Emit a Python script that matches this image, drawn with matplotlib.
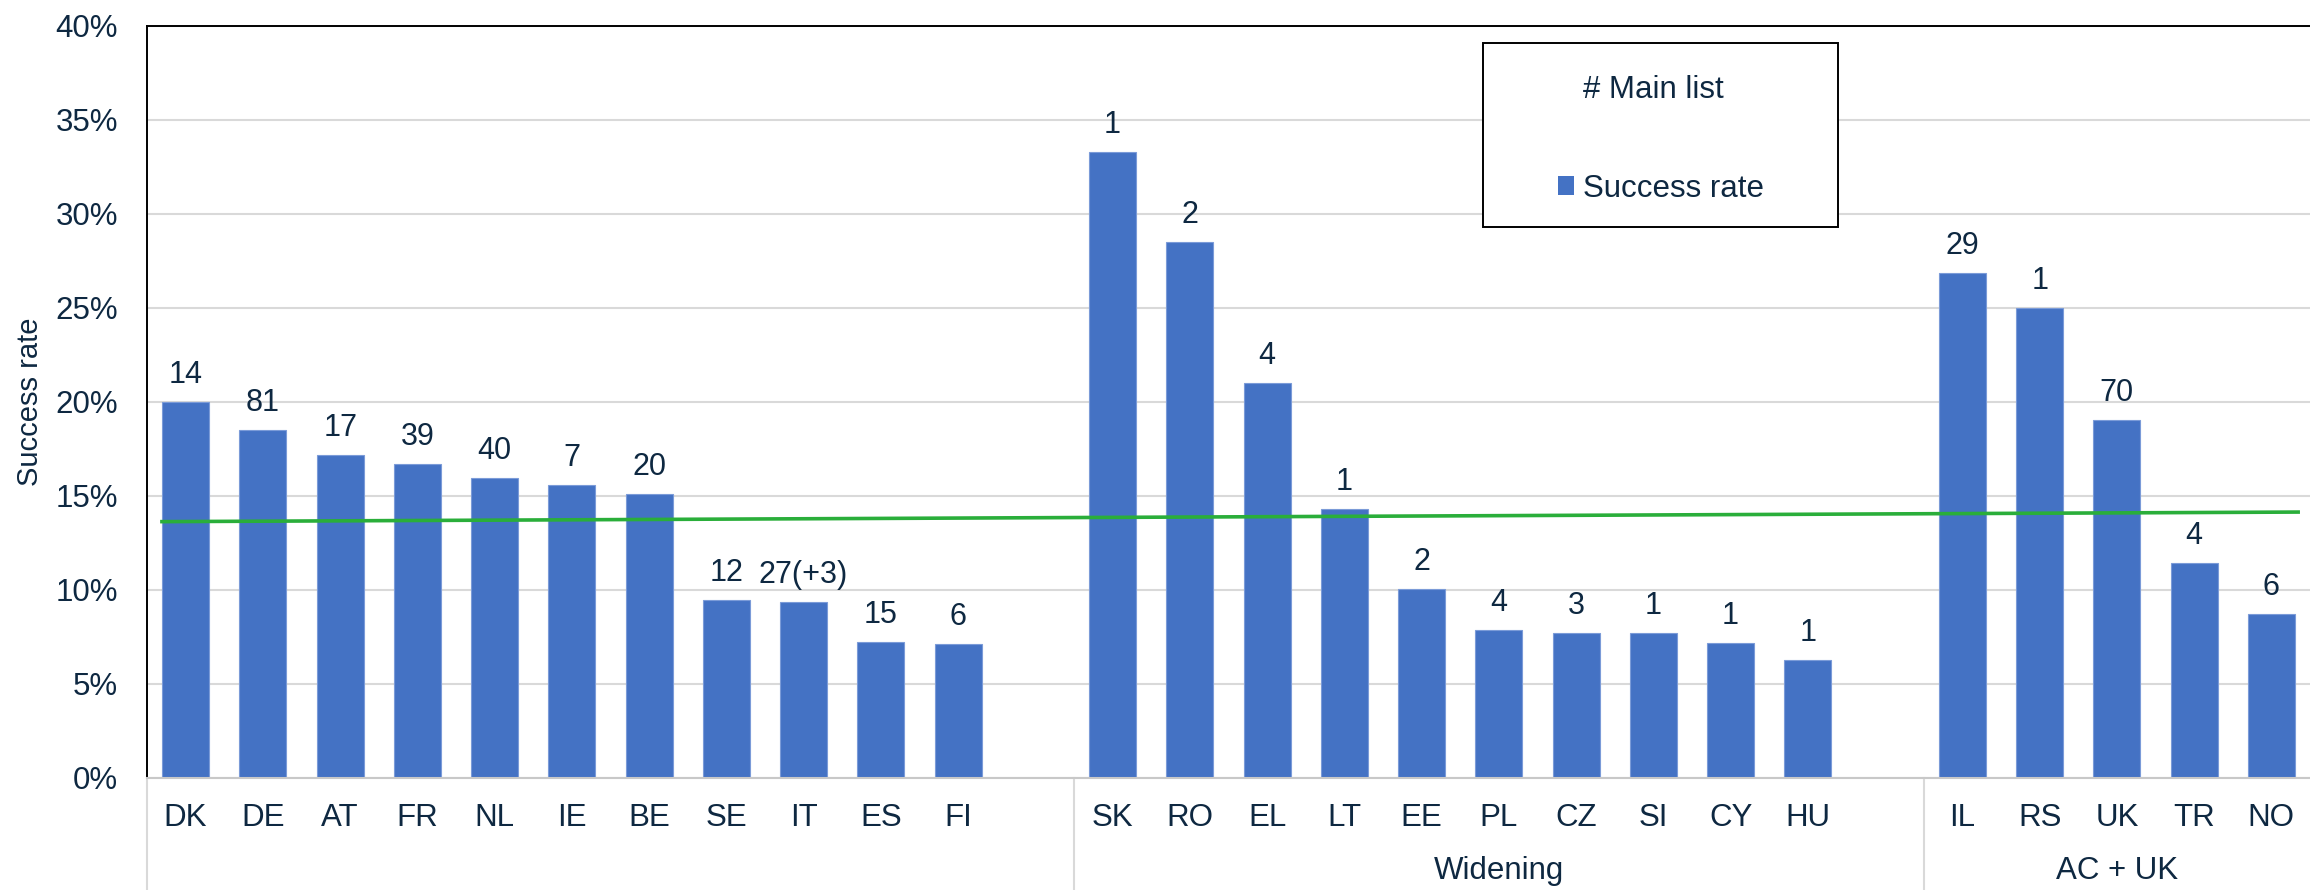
import matplotlib
matplotlib.use("Agg")
import matplotlib.pyplot as plt
from matplotlib.patches import Patch, Rectangle
from matplotlib.ticker import FuncFormatter
import matplotlib.transforms as mtransforms

plt.rcParams['font.family'] = ['Liberation Sans', 'DejaVu Sans']

# ---- data ----
countries = ["DK", "DE", "AT", "FR", "NL", "IE", "BE", "SE", "IT", "ES", "FI",
             "SK", "RO", "EL", "LT", "EE", "PL", "CZ", "SI", "CY", "HU",
             "IL", "RS", "UK", "TR", "NO"]
group_sizes = [11, 10, 5]
group_labels = ["", "Widening", "AC + UK"]
success_rate = [20.0, 18.5, 17.15, 16.7, 15.95, 15.55, 15.1, 9.45, 9.35, 7.2, 7.1,
                33.3, 28.5, 21.0, 14.3, 10.05, 7.85, 7.7, 7.7, 7.15, 6.25,
                26.85, 25.0, 19.0, 11.4, 8.7]
main_list = ["14", "81", "17", "39", "40", "7", "20", "12", "27(+3)", "15", "6",
             "1", "2", "4", "1", "2", "4", "3", "1", "1", "1",
             "29", "1", "70", "4", "6"]
average_line = [13.62, 14.13]   # start / end of the average line

TEXT = '#0e2841'
BLUE = '#4472c4'
GREEN = '#2aae3a'
GRID = '#d9d9d9'

# positions with one empty slot after each group except the last
positions = []
bounds = [-0.5]
pos = 0
for gi, n in enumerate(group_sizes):
    for k in range(n):
        positions.append(pos)
        pos += 1
    if gi < len(group_sizes) - 1:
        pos += 1
    bounds.append(pos - 0.5)
nslots = pos

W, H = 2310, 890
fig = plt.figure(figsize=(W / 100, H / 100), dpi=100)
ax = fig.add_axes([147 / W, 1 - 777.7 / H, (W - 147) / W, (777.7 - 25.7) / H])

bars = ax.bar(positions, success_rate, width=0.61, color=BLUE,
              edgecolor='#7b9bd8', linewidth=0.8, zorder=2)
for x, v, lab in zip(positions, success_rate, main_list):
    ax.annotate(lab, (x, v), xytext=(0, 13.7), textcoords='offset points',
                ha='center', va='baseline', fontsize=22, color=TEXT, zorder=4)

ax.plot([positions[0] - 0.33, positions[-1] + 0.37], average_line,
        color=GREEN, lw=2.6, solid_capstyle='butt', zorder=3)

ax.set_xlim(-0.5, nslots - 0.5)
ax.set_ylim(0, 40)
ax.set_yticks(range(0, 41, 5))
ax.yaxis.set_major_formatter(FuncFormatter(lambda v, p: f"{v:.0f}%"))
ax.set_xticks(positions)
ax.set_xticklabels(countries)
ax.tick_params(axis='x', length=0, pad=18, labelsize=22.5, labelcolor=TEXT)
ax.tick_params(axis='y', length=0, pad=21, labelsize=22.5, labelcolor=TEXT)

ax.grid(axis='y', color=GRID, lw=1.5, zorder=0)
ax.set_axisbelow(True)
ax.spines['right'].set_visible(False)
ax.spines['top'].set_color('black')
ax.spines['top'].set_linewidth(1.4)
ax.spines['left'].set_color('black')
ax.spines['left'].set_linewidth(1.4)
ax.spines['bottom'].set_color('#c8c8c8')
ax.spines['bottom'].set_linewidth(1.5)

# group separators and group labels
trans = mtransforms.blended_transform_factory(ax.transData, ax.transAxes)
for b in bounds[:-1]:
    ax.plot([b, b], [0, -0.16], transform=trans, color=GRID, lw=1.5,
            clip_on=False, zorder=1)
for gi, lab in enumerate(group_labels):
    if lab:
        ax.text((bounds[gi] + bounds[gi + 1]) / 2, -0.124, lab, transform=trans,
                ha='center', va='center', fontsize=22.5, color=TEXT)

fig.text(30 / W, 1 - 402 / H, "Success rate", rotation=90, ha='center',
         va='center', fontsize=21, color=TEXT)

# legend
frame = Rectangle((1483 / W, 1 - 227 / H), (1838 - 1483) / W, (227 - 43) / H,
                  transform=fig.transFigure, facecolor='white',
                  edgecolor='black', lw=1.4, zorder=3)
fig.patches.append(frame)
handles = [Patch(facecolor='none', edgecolor='none'),
           Patch(facecolor=BLUE, edgecolor='none')]
leg = fig.legend(handles, ["# Main list", "Success rate"], loc='center',
                 bbox_to_anchor=(1661 / W, 1 - 139.2 / H),
                 bbox_transform=fig.transFigure, frameon=False, fontsize=22.5,
                 handlelength=0.52, handleheight=0.52, handletextpad=0.3,
                 labelspacing=2.2, borderpad=0)
for t in leg.get_texts():
    t.set_color(TEXT)
leg.set_zorder(5)

fig.savefig("out.png", dpi=100)
